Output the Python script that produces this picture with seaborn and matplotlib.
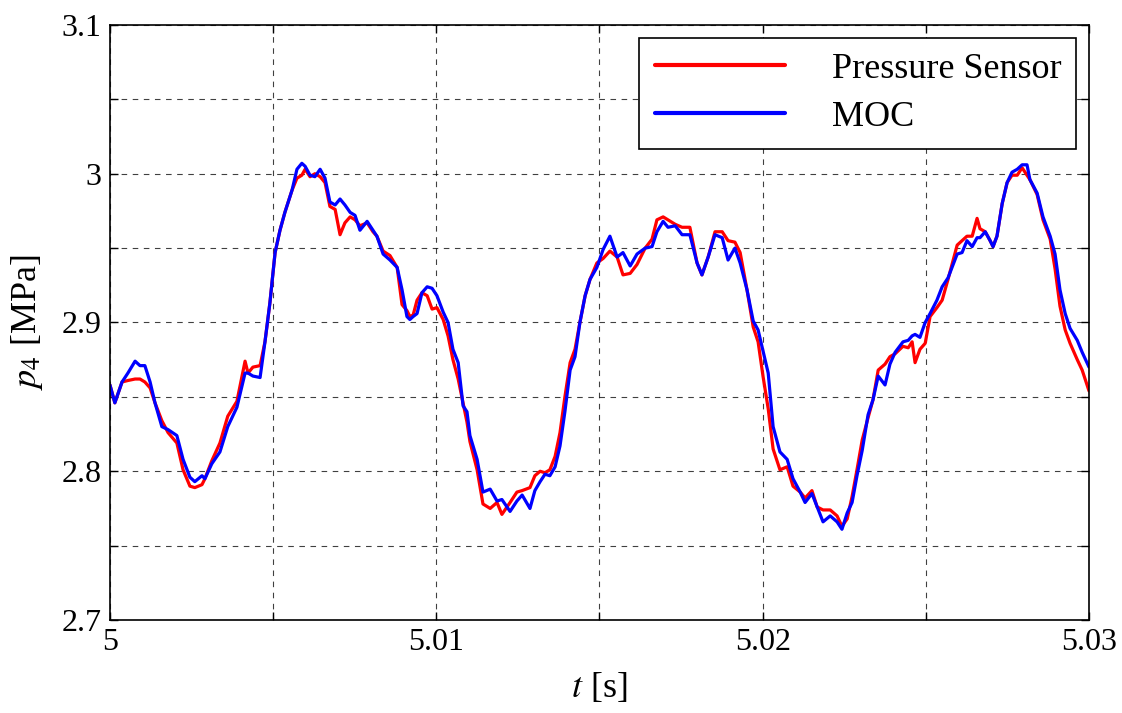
import numpy as np
import pandas as pd
import matplotlib
matplotlib.use("Agg")
import matplotlib.pyplot as plt
import seaborn as sns

# time after 5 s, in milliseconds
t_ms = [0.00, 0.15, 0.37, 0.55, 0.77, 0.92, 1.07, 1.23, 1.38, 1.59, 1.78, 2.05, 2.24, 2.45, 2.60,
        2.82, 2.91, 3.12, 3.37, 3.61, 3.89, 4.14, 4.23, 4.38, 4.60, 4.75, 4.90, 5.06, 5.21, 5.36,
        5.58, 5.73, 5.88, 5.98, 6.13, 6.28, 6.44, 6.59, 6.74, 6.90, 7.05, 7.20, 7.36, 7.51, 7.66,
        7.88, 8.06, 8.18, 8.37, 8.58, 8.80, 8.95, 9.10, 9.19, 9.29, 9.41, 9.56, 9.72, 9.87, 10.02,
        10.21, 10.36, 10.51, 10.67, 10.82, 10.94, 11.03, 11.25, 11.43, 11.65, 11.86, 12.01, 12.26,
        12.47, 12.63, 12.87, 13.02, 13.18, 13.33, 13.48, 13.64, 13.79, 13.94, 14.10, 14.25, 14.40,
        14.56, 14.71, 14.92, 15.11, 15.32, 15.54, 15.72, 15.94, 16.15, 16.40, 16.61, 16.76, 16.95,
        17.10, 17.32, 17.53, 17.77, 17.99, 18.14, 18.33, 18.54, 18.76, 18.94, 19.15, 19.31, 19.52,
        19.71, 19.86, 20.01, 20.17, 20.32, 20.53, 20.75, 20.93, 21.15, 21.30, 21.51, 21.67, 21.85,
        22.07, 22.28, 22.43, 22.59, 22.74, 22.89, 23.05, 23.23, 23.38, 23.54, 23.75, 23.90, 24.06,
        24.30, 24.46, 24.58, 24.67, 24.82, 24.98, 25.13, 25.34, 25.50, 25.68, 25.96, 26.11, 26.26,
        26.42, 26.57, 26.66, 26.82, 26.97, 27.06, 27.18, 27.34, 27.49, 27.64, 27.80, 27.95, 28.10,
        28.19, 28.41, 28.59, 28.81, 28.96, 29.11, 29.27, 29.42, 29.64, 29.79, 30.00]

p_sensor = [2.858, 2.846, 2.860, 2.861, 2.862, 2.862, 2.860, 2.856, 2.846, 2.834, 2.826, 2.819, 2.801,
            2.790, 2.789, 2.791, 2.795, 2.807, 2.819, 2.837, 2.847, 2.874, 2.866, 2.870, 2.871, 2.887,
            2.913, 2.947, 2.962, 2.974, 2.989, 2.997, 2.999, 3.003, 2.998, 3.000, 2.998, 2.994, 2.978,
            2.976, 2.959, 2.967, 2.971, 2.969, 2.965, 2.967, 2.961, 2.958, 2.948, 2.945, 2.937, 2.912,
            2.908, 2.904, 2.905, 2.915, 2.920, 2.918, 2.909, 2.910, 2.902, 2.891, 2.875, 2.862, 2.846,
            2.833, 2.820, 2.801, 2.778, 2.775, 2.779, 2.771, 2.779, 2.786, 2.787, 2.789, 2.797, 2.800,
            2.799, 2.801, 2.810, 2.826, 2.850, 2.873, 2.882, 2.900, 2.918, 2.929, 2.940, 2.943, 2.948,
            2.944, 2.932, 2.933, 2.939, 2.950, 2.956, 2.969, 2.971, 2.969, 2.966, 2.964, 2.964, 2.940,
            2.932, 2.944, 2.961, 2.961, 2.955, 2.954, 2.947, 2.922, 2.897, 2.887, 2.864, 2.842, 2.815,
            2.801, 2.803, 2.790, 2.786, 2.782, 2.787, 2.776, 2.774, 2.774, 2.770, 2.763, 2.768, 2.783,
            2.801, 2.821, 2.836, 2.848, 2.868, 2.872, 2.877, 2.879, 2.884, 2.883, 2.887, 2.873, 2.882,
            2.886, 2.904, 2.910, 2.915, 2.929, 2.952, 2.955, 2.958, 2.958, 2.970, 2.963, 2.961, 2.955,
            2.951, 2.958, 2.980, 2.994, 2.999, 2.999, 3.004, 2.999, 2.996, 2.986, 2.969, 2.956, 2.936,
            2.911, 2.895, 2.886, 2.875, 2.868, 2.854]

p_moc = [2.858, 2.846, 2.860, 2.866, 2.874, 2.871, 2.871, 2.860, 2.846, 2.830, 2.828, 2.824, 2.808,
         2.796, 2.793, 2.797, 2.795, 2.805, 2.813, 2.830, 2.843, 2.866, 2.866, 2.864, 2.863, 2.887,
         2.913, 2.947, 2.962, 2.974, 2.989, 3.003, 3.007, 3.005, 2.999, 2.998, 3.003, 2.997, 2.981,
         2.979, 2.983, 2.979, 2.974, 2.972, 2.962, 2.968, 2.962, 2.958, 2.946, 2.942, 2.937, 2.922,
         2.904, 2.902, 2.904, 2.906, 2.920, 2.924, 2.923, 2.918, 2.907, 2.900, 2.882, 2.873, 2.844,
         2.840, 2.824, 2.808, 2.786, 2.788, 2.780, 2.781, 2.773, 2.780, 2.784, 2.775, 2.787, 2.793,
         2.798, 2.797, 2.803, 2.817, 2.840, 2.868, 2.877, 2.900, 2.918, 2.929, 2.937, 2.949, 2.958,
         2.944, 2.947, 2.938, 2.946, 2.950, 2.951, 2.961, 2.968, 2.964, 2.965, 2.959, 2.959, 2.940,
         2.932, 2.944, 2.959, 2.957, 2.942, 2.950, 2.940, 2.922, 2.901, 2.895, 2.881, 2.866, 2.830,
         2.813, 2.808, 2.795, 2.786, 2.779, 2.785, 2.776, 2.766, 2.770, 2.766, 2.761, 2.772, 2.779,
         2.797, 2.814, 2.838, 2.848, 2.864, 2.858, 2.872, 2.880, 2.887, 2.888, 2.891, 2.892, 2.890,
         2.900, 2.906, 2.915, 2.924, 2.930, 2.946, 2.947, 2.955, 2.951, 2.957, 2.957, 2.961, 2.955,
         2.951, 2.958, 2.980, 2.994, 3.001, 3.003, 3.006, 3.006, 2.996, 2.987, 2.971, 2.958, 2.946,
         2.922, 2.906, 2.896, 2.888, 2.880, 2.870]

series_names = ["Pressure Sensor", "MOC"]
series_colors = ["#ff0000", "#0000ff"]
x_tick_labels = ["5", "5.01", "5.02", "5.03"]
y_tick_labels = ["2.7", "2.8", "2.9", "3", "3.1"]

t = 5.0 + np.array(t_ms) / 1000.0
df = pd.concat([
    pd.DataFrame({"t": t, "p": p_sensor, "series": series_names[0]}),
    pd.DataFrame({"t": t, "p": p_moc, "series": series_names[1]}),
], ignore_index=True)

sns.set_style("ticks")
plt.rcParams["font.family"] = ["Liberation Serif", "DejaVu Serif"]
plt.rcParams["mathtext.fontset"] = "stix"
for key in ["text.color", "axes.labelcolor", "xtick.color", "ytick.color",
            "xtick.labelcolor", "ytick.labelcolor", "axes.edgecolor"]:
    plt.rcParams[key] = "black"

fig = plt.figure(figsize=(11.22, 7.13), dpi=100)
ax = fig.add_axes([0.098, 0.1304, 0.8726, 0.8346])

sns.lineplot(data=df, x="t", y="p", hue="series", hue_order=series_names,
             palette=series_colors, linewidth=2.3, ax=ax, sort=False,
             estimator=None, legend=True)

ax.set_xlim(5.0, 5.03)
ax.set_ylim(2.7, 3.1)

xt = np.linspace(5.0, 5.03, 7)
yt = np.linspace(2.7, 3.1, 9)
ax.set_xticks(xt)
ax.set_yticks(yt)
ax.set_xticklabels([x_tick_labels[i // 2] if i % 2 == 0 else "" for i in range(len(xt))])
ax.set_yticklabels([y_tick_labels[i // 2] if i % 2 == 0 else "" for i in range(len(yt))])
ax.tick_params(axis="both", which="both", direction="in", length=6, width=1,
               labelsize=23, top=True, right=True, color="black", labelcolor="black", pad=6)
ax.grid(True, color="black", linestyle=(0, (5, 5)), linewidth=0.8, alpha=0.75)
for s in ax.spines.values():
    s.set_visible(True)
    s.set_linewidth(1.2)
    s.set_color("black")

ax.set_xlabel(r"$t$ [s]", fontsize=26, labelpad=10, color="black")
ax.set_ylabel(r"$p_4$ [MPa]", fontsize=26, labelpad=12, color="black")

leg = ax.legend(loc="upper right", fontsize=26, handlelength=3.6, handletextpad=1.3,
                frameon=True, fancybox=False, edgecolor="black", framealpha=1,
                borderpad=0.42, labelspacing=0.4, borderaxespad=0.35)
leg.get_frame().set_linewidth(1.2)
for txt in leg.get_texts():
    txt.set_color("black")
for ln in leg.get_lines():
    ln.set_linewidth(3.0)

fig.savefig("out.png", dpi=100)
